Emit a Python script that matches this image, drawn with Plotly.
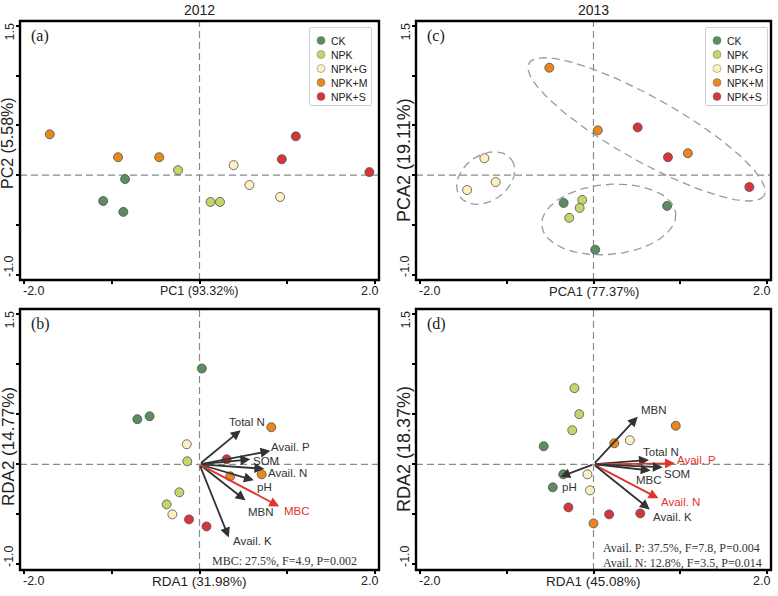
import numpy as np
import plotly.graph_objects as go

# ---------------- data ----------------
groups = ["CK", "NPK", "NPK+G", "NPK+M", "NPK+S"]
group_colors = ["#5b8d5e", "#c3d66b", "#fdf0c1", "#e8881f", "#d6353a"]

# (a) PCA 2012 sample scores
pca12_x = {"CK": [-0.85, -1.10, -0.87], "NPK": [-0.245, 0.126, 0.234],
           "NPK+G": [0.39, 0.57, 0.92], "NPK+M": [-1.71, -0.93, -0.46],
           "NPK+S": [1.10, 0.94, 1.94]}
pca12_y = {"CK": [-0.04, -0.26, -0.37], "NPK": [0.05, -0.27, -0.27],
           "NPK+G": [0.10, -0.10, -0.22], "NPK+M": [0.41, 0.18, 0.18],
           "NPK+S": [0.39, 0.16, 0.03]}

# (c) PCA 2013 sample scores
pca13_x = {"CK": [-0.345, 0.85, 0.02], "NPK": [-0.13, -0.16, -0.28],
           "NPK+G": [-1.26, -1.13, -1.46], "NPK+M": [-0.51, 0.05, 1.09],
           "NPK+S": [0.51, 0.86, 1.80]}
pca13_y = {"CK": [-0.28, -0.31, -0.75], "NPK": [-0.25, -0.33, -0.43],
           "NPK+G": [0.17, -0.07, -0.15], "NPK+M": [1.08, 0.45, 0.22],
           "NPK+S": [0.48, 0.18, -0.12]}

# (b) RDA 2012 sample scores
rda12_x = {"CK": [0.027, -0.71, -0.57], "NPK": [-0.14, -0.23, -0.375],
           "NPK+G": [-0.146, -0.31], "NPK+M": [0.82, 0.71, 0.35],
           "NPK+S": [-0.12, 0.08, 0.31]}
rda12_y = {"CK": [0.956, 0.45, 0.48], "NPK": [0.03, -0.28, -0.40],
           "NPK+G": [0.20, -0.50], "NPK+M": [0.37, -0.10, -0.12],
           "NPK+S": [-0.55, -0.62, 0.05]}

# (d) RDA 2013 sample scores
rda13_x = {"CK": [-0.575, -0.35, -0.47], "NPK": [-0.22, -0.165, -0.245],
           "NPK+G": [0.42, -0.07, -0.04], "NPK+M": [0.95, 0.24, 0.0],
           "NPK+S": [-0.29, 0.18, 0.54]}
rda13_y = {"CK": [0.18, -0.10, -0.23], "NPK": [0.76, 0.50, 0.34],
           "NPK+G": [0.24, -0.10, -0.26], "NPK+M": [0.385, 0.21, -0.59],
           "NPK+S": [-0.43, -0.50, -0.49]}

# RDA environmental vectors (arrow tips)
env12_names = ["Total N", "Avail. P", "SOM", "Avail. N", "pH", "MBN", "MBC", "Avail. K"]
env12_x = [0.47, 0.81, 0.58, 0.74, 0.62, 0.525, 0.91, 0.335]
env12_y = [0.34, 0.134, 0.05, -0.045, -0.16, -0.36, -0.42, -0.73]
env12_sig = ["MBC"]

env13_names = ["MBN", "Total N", "Avail. P", "SOM", "MBC", "Avail. N", "Avail. K", "pH"]
env13_x = [0.51, 0.64, 0.94, 0.80, 0.66, 0.75, 0.65, -0.383]
env13_y = [0.475, 0.043, 0.01, -0.03, -0.062, -0.34, -0.45, -0.125]
env13_sig = ["Avail. P", "Avail. N"]

# label anchor positions for the vectors (layout)
env12_lab = {"Total N": (0.537, 0.426), "Avail. P": (1.04, 0.177), "SOM": (0.755, 0.036),
             "Avail. N": (1.0, -0.09), "pH": (0.74, -0.225), "MBN": (0.705, -0.48),
             "MBC": (1.11, -0.467), "Avail. K": (0.60, -0.77)}
env13_lab = {"MBN": (0.70, 0.537), "Total N": (0.78, 0.127), "Avail. P": (1.19, 0.043),
             "SOM": (0.96, -0.10), "MBC": (0.645, -0.16), "Avail. N": (1.01, -0.373),
             "Avail. K": (0.91, -0.527), "pH": (-0.276, -0.228)}

stats12 = ["MBC: 27.5%, F=4.9, P=0.002"]
stats13 = ["Avail. P: 37.5%, F=7.8, P=0.004", "Avail. N: 12.8%, F=3.5, P=0.014"]

years = ["2012", "2013"]
x_titles = ["PC1 (93.32%)", "PCA1 (77.37%)", "RDA1 (31.98%)", "RDA1 (45.08%)"]
y_titles = ["PC2 (5.58%)", "PCA2 (19.11%)", "RDA2 (14.77%)", "RDA2 (18.37%)"]
panel_letters = ["(a)", "(c)", "(b)", "(d)"]
x_tick_vals = [-2, -1, 0, 1, 2]
y_tick_vals = [-1, -0.5, 0, 0.5, 1, 1.5]
x_end_labels = ["-2.0", "2.0"]
y_end_labels = ["-1.0", "1.5"]

# confidence ellipses in panel (c): centre (data), semi-axes (px), angle (deg, screen)
ellipses13 = [(0.613, 0.46, 136, 32, 29), (-1.245, -0.03, 32, 23, -35), (0.176, -0.446, 68, 35, -5)]

# ---------------- layout geometry ----------------
W, H = 778, 596
X_RANGE = [-2.05, 2.05]
Y_RANGE = [-1.055, 1.55]
cols_px = [(20, 379), (416, 771)]
rows_px = [(21, 280), (309, 570)]
SX = (cols_px[0][1] - cols_px[0][0]) / (X_RANGE[1] - X_RANGE[0])
SY = (rows_px[0][1] - rows_px[0][0]) / (Y_RANGE[1] - Y_RANGE[0])
xt_size = [12.5, 13, 13.5, 13.5]
yt_size = [16, 18, 17, 18]
yt_center = [143, 160, 447, 449]

def px2x(p):
    return p / W

def px2y(p):
    return 1 - p / H

FONT = "Arial, Liberation Sans, sans-serif"
SERIF = "Times New Roman, Liberation Serif, serif"
TXT = "#333333"
RED = "#e0342c"
ARW = "#333333"

fig = go.Figure()
panels = [("x", "y", 0, 0), ("x2", "y2", 1, 0), ("x3", "y3", 0, 1), ("x4", "y4", 1, 1)]
datasets = [(pca12_x, pca12_y), (pca13_x, pca13_y), (rda12_x, rda12_y), (rda13_x, rda13_y)]

annotations = []
shapes = []

for i, ((xa, ya, c, r), (dx, dy)) in enumerate(zip(panels, datasets)):
    axn = "" if i == 0 else str(i + 1)
    fig.layout["xaxis" + axn] = dict(
        domain=[px2x(cols_px[c][0]), px2x(cols_px[c][1])], range=X_RANGE, anchor=ya,
        automargin=False, showgrid=False, zeroline=False, showline=False,
        ticks="outside", ticklen=3, tickwidth=1.5, tickcolor="black",
        tickvals=x_tick_vals, showticklabels=False)
    fig.layout["yaxis" + axn] = dict(
        domain=[px2y(rows_px[r][1]), px2y(rows_px[r][0])], range=Y_RANGE, anchor=xa,
        automargin=False, showgrid=False, zeroline=False, showline=False,
        ticks="outside", ticklen=3, tickwidth=1.5, tickcolor="black",
        tickvals=y_tick_vals, showticklabels=False)
    # frame
    shapes.append(dict(type="rect", xref="paper", yref="paper",
                       x0=px2x(cols_px[c][0]), x1=px2x(cols_px[c][1]),
                       y0=px2y(rows_px[r][1]), y1=px2y(rows_px[r][0]),
                       line=dict(color="#000000", width=2.4), fillcolor="rgba(0,0,0,0)", layer="above"))
    # dashed zero lines
    shapes.append(dict(type="line", xref=xa, yref=ya + " domain", x0=0, x1=0, y0=0, y1=1,
                       line=dict(color="#8a8a8a", width=1.2, dash="7px,4px"), layer="below"))
    shapes.append(dict(type="line", xref=xa + " domain", yref=ya, x0=0, x1=1, y0=0, y1=0,
                       line=dict(color="#8a8a8a", width=1.2, dash="7px,4px"), layer="below"))
    # points
    for g, col in zip(groups, group_colors):
        fig.add_trace(go.Scatter(x=dx[g], y=dy[g], mode="markers", xaxis=xa, yaxis=ya,
                                 showlegend=False, name=g,
                                 marker=dict(size=9, color=col, line=dict(color="#505050", width=0.8))))
    # end tick labels (aligned inward, as in the original)
    ylab = px2y(rows_px[r][1] + 11)
    annotations.append(dict(text=x_end_labels[0], xref="paper", yref="paper", x=px2x(cols_px[c][0] + 1),
                            y=ylab, xanchor="left", yanchor="middle", showarrow=False,
                            font=dict(family=FONT, size=12.5, color="#222")))
    annotations.append(dict(text=x_end_labels[1], xref="paper", yref="paper", x=px2x(cols_px[c][1] + 1),
                            y=ylab, xanchor="right", yanchor="middle", showarrow=False,
                            font=dict(family=FONT, size=12.5, color="#222")))
    xlab = px2x(cols_px[c][0] - 11)
    annotations.append(dict(text=y_end_labels[0], xref="paper", yref="paper", x=xlab,
                            y=px2y(rows_px[r][1] - 1), xanchor="center", yanchor="bottom",
                            textangle=-90, showarrow=False,
                            font=dict(family=FONT, size=12.5, color="#222")))
    annotations.append(dict(text=y_end_labels[1], xref="paper", yref="paper", x=xlab,
                            y=px2y(rows_px[r][0] + 1), xanchor="center", yanchor="top",
                            textangle=-90, showarrow=False,
                            font=dict(family=FONT, size=12.5, color="#222")))
    # axis titles
    cx = (cols_px[c][0] + cols_px[c][1]) / 2
    annotations.append(dict(text=x_titles[i], xref="paper", yref="paper", x=px2x(cx),
                            y=ylab, xanchor="center", yanchor="middle",
                            showarrow=False, font=dict(family=FONT, size=xt_size[i], color="#222")))
    annotations.append(dict(text=y_titles[i], xref="paper", yref="paper",
                            x=px2x(cols_px[c][0] - 12), y=px2y(yt_center[i]), xanchor="center",
                            yanchor="middle", textangle=-90, showarrow=False,
                            font=dict(family=FONT, size=yt_size[i], color="#222")))
    annotations.append(dict(text=panel_letters[i], xref=xa + " domain", yref=ya + " domain",
                            x=9 / (cols_px[c][1] - cols_px[c][0]), y=1 - 15 / (rows_px[r][1] - rows_px[r][0]),
                            xanchor="left", yanchor="middle", showarrow=False,
                            font=dict(family=SERIF, size=16, color="#222")))

# year titles
for c, yr in enumerate(years):
    annotations.append(dict(text=yr, xref="paper", yref="paper",
                            x=px2x((cols_px[c][0] + cols_px[c][1]) / 2), y=px2y(10),
                            xanchor="center", yanchor="middle", showarrow=False,
                            font=dict(family=FONT, size=14, color="#222")))

# ellipses in panel (c)
t = np.linspace(0, 2 * np.pi, 240)
for (ecx, ecy, ea, eb, eang) in ellipses13:
    th = np.deg2rad(eang)
    xp = ea * np.cos(t) * np.cos(th) - eb * np.sin(t) * np.sin(th)
    yp = ea * np.cos(t) * np.sin(th) + eb * np.sin(t) * np.cos(th)
    fig.add_trace(go.Scatter(x=ecx + xp / SX, y=ecy - yp / SY, mode="lines", xaxis="x2", yaxis="y2",
                             showlegend=False, hoverinfo="skip",
                             line=dict(color="#9a9a9a", width=1.3, dash="8px,5px")))

# RDA arrows and labels
def add_vectors(names, vx, vy, sig, labs, xa, ya):
    for n, x, y in zip(names, vx, vy):
        col = RED if n in sig else ARW
        annotations.append(dict(x=x, y=y, ax=0, ay=0, xref=xa, yref=ya, axref=xa, ayref=ya,
                                text="", showarrow=True, arrowhead=2, arrowsize=1.1,
                                arrowwidth=1.8, arrowcolor=col, standoff=0))
        lx, ly = labs[n]
        annotations.append(dict(x=lx, y=ly, xref=xa, yref=ya, text=n, showarrow=False,
                                xanchor="center", yanchor="middle",
                                font=dict(family=FONT, size=11.5, color=(RED if n in sig else TXT))))

add_vectors(env12_names, env12_x, env12_y, env12_sig, env12_lab, "x3", "y3")
add_vectors(env13_names, env13_x, env13_y, env13_sig, env13_lab, "x4", "y4")

for k, s in enumerate(stats12):
    annotations.append(dict(x=0.115, y=-0.965 - 0.145 * k, xref="x3", yref="y3", text=s,
                            showarrow=False, xanchor="left", yanchor="middle",
                            font=dict(family=SERIF, size=12, color=TXT)))
for k, s in enumerate(stats13):
    annotations.append(dict(x=0.084, y=-0.836 - 0.145 * k, xref="x4", yref="y4", text=s,
                            showarrow=False, xanchor="left", yanchor="middle",
                            font=dict(family=SERIF, size=12, color=TXT)))

# custom legends (panels a and c)
legend_boxes = [(310, 371, 28, 105), (706, 767, 28, 105)]
for j, (lx0, lx1, ly0, ly1) in enumerate(legend_boxes):
    axn = str(5 + j)
    fig.layout["xaxis" + axn] = dict(domain=[px2x(lx0), px2x(lx1)], range=[0, lx1 - lx0],
                                     visible=False, fixedrange=True, anchor="y" + axn, automargin=False)
    fig.layout["yaxis" + axn] = dict(domain=[px2y(ly1), px2y(ly0)], range=[ly1 - ly0, 0],
                                     visible=False, fixedrange=True, anchor="x" + axn, automargin=False)
    shapes.append(dict(type="rect", xref="paper", yref="paper", x0=px2x(lx0), x1=px2x(lx1),
                       y0=px2y(ly1), y1=px2y(ly0), line=dict(color="#a0a0a0", width=1),
                       fillcolor="white", layer="below"))
    rows = [12.5 + 14 * k for k in range(len(groups))]
    fig.add_trace(go.Scatter(x=[11] * len(groups), y=rows, mode="markers",
                             xaxis="x" + axn, yaxis="y" + axn, showlegend=False, hoverinfo="skip",
                             marker=dict(size=8, color=group_colors, line=dict(color="#707070", width=0.5))))
    for g, ry in zip(groups, rows):
        annotations.append(dict(x=19, y=ry, xref="x" + axn, yref="y" + axn, text=g,
                                showarrow=False, xanchor="left", yanchor="middle",
                                font=dict(family=FONT, size=10.5, color="#222")))

fig.update_layout(width=W, height=H, margin=dict(l=0, r=0, t=0, b=0),
                  paper_bgcolor="white", plot_bgcolor="white",
                  annotations=annotations, shapes=shapes, showlegend=False)

fig.write_html("out.html", config={"displayModeBar": False},
               post_script="document.body.style.margin='0px';document.body.style.overflow='hidden';")
